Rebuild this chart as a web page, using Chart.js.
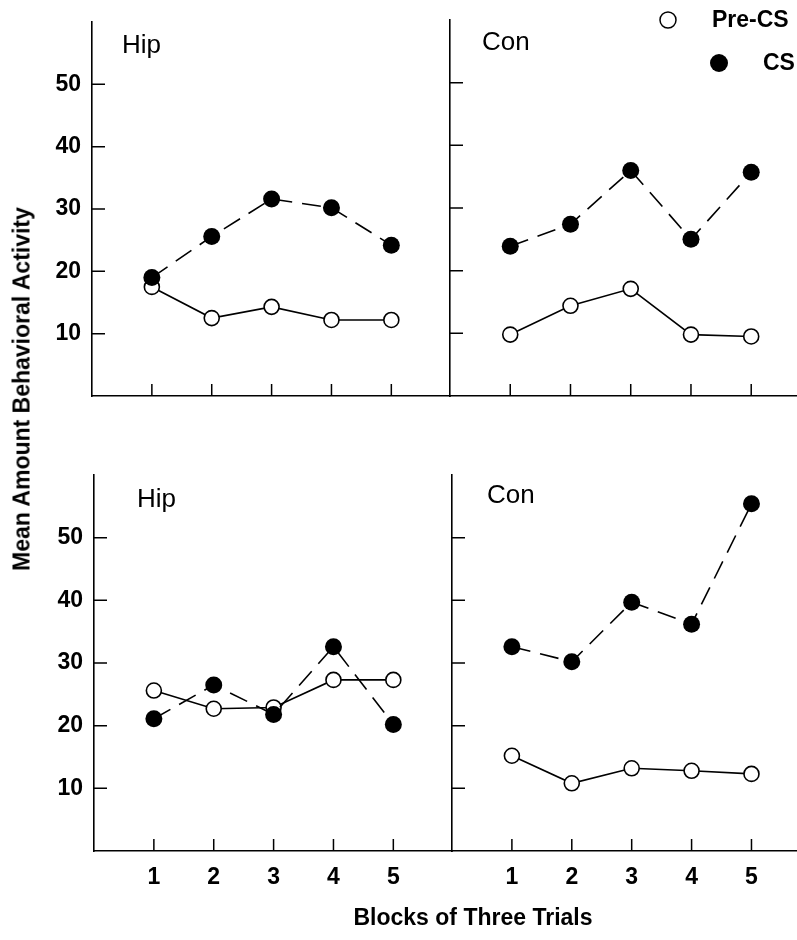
<!DOCTYPE html>
<html>
<head>
<meta charset="utf-8">
<script src="https://cdn.jsdelivr.net/npm/chart.js@4.4.1/dist/chart.umd.min.js"></script>
<style>
  body { margin: 0; background: #fff; }
  #wrap { position: relative; width: 797px; height: 940px; overflow: hidden; font-family: "Liberation Sans", Arial, sans-serif; color: #000; }
  canvas { position: absolute; }
  .ytitle { position: absolute; left: 22px; top: 389px; font-weight: bold; font-size: 23px; white-space: nowrap; transform: translate(-50%, -50%) rotate(-90deg); }
  .xtitle { position: absolute; left: 473px; top: 917px; font-weight: bold; font-size: 23px; white-space: nowrap; transform: translate(-50%, -50%); }
</style>
</head>
<body>
<div id="wrap">
  <canvas id="tl" width="460" height="410" style="left:0;top:0"></canvas>
  <canvas id="tr" width="357" height="410" style="left:440px;top:0"></canvas>
  <canvas id="bl" width="460" height="500" style="left:0;top:440px"></canvas>
  <canvas id="br" width="357" height="500" style="left:440px;top:440px"></canvas>
  <div class="ytitle">Mean Amount Behavioral Activity</div>
  <div class="xtitle">Blocks of Three Trials</div>
</div>
<script>
// data
const blocks = [1, 2, 3, 4, 5];
const yTicks = [10, 20, 30, 40, 50];
const seriesNames = ['Pre-CS', 'CS'];

const hipTopPre = [17.5, 12.5, 14.3, 12.2, 12.2];
const hipTopCS  = [19.0, 25.6, 31.6, 30.2, 24.2];
const conTopPre = [9.8, 14.4, 17.1, 9.8, 9.5];
const conTopCS  = [23.9, 27.4, 36.0, 25.0, 35.7];

const hipBotPre = [25.6, 22.7, 22.9, 27.3, 27.3];
const hipBotCS  = [21.1, 26.5, 21.8, 32.6, 20.2];
const conBotPre = [15.2, 10.8, 13.2, 12.8, 12.3];
const conBotCS  = [32.6, 30.2, 39.7, 36.2, 55.4];

const FONT = '"Liberation Sans", Arial, sans-serif';
Chart.defaults.color = '#000';
Chart.defaults.font.family = FONT;

// inward tick marks, panel label and (optionally) the legend
const panelDeco = {
  id: 'panelDeco',
  afterDraw(chart, args, opts) {
    const ctx = chart.ctx;
    const a = chart.chartArea;
    const xs = chart.scales.x, ys = chart.scales.y;
    ctx.save();
    ctx.strokeStyle = '#000';
    ctx.lineWidth = 1.5;
    ctx.beginPath();
    yTicks.forEach(v => {
      const y = ys.getPixelForValue(v);
      ctx.moveTo(a.left, y);
      ctx.lineTo(a.left + 13, y);
    });
    blocks.forEach(v => {
      const x = xs.getPixelForValue(v);
      ctx.moveTo(x, a.bottom);
      ctx.lineTo(x, a.bottom - 12);
    });
    ctx.stroke();

    ctx.fillStyle = '#000';
    ctx.font = '26px ' + FONT;
    ctx.textBaseline = 'alphabetic';
    ctx.textAlign = 'left';
    ctx.fillText(opts.title, a.left + opts.tx, a.top + opts.ty);

    if (opts.legend) {
      const items = [
        { name: seriesNames[0], cx: 228, cy: 20, tx: 272, filled: false },
        { name: seriesNames[1], cx: 279, cy: 63, tx: 323, filled: true }
      ];
      ctx.font = 'bold 23px ' + FONT;
      ctx.textBaseline = 'middle';
      items.forEach(it => {
        ctx.beginPath();
        ctx.arc(it.cx, it.cy, it.filled ? 9 : 8, 0, Math.PI * 2);
        if (it.filled) { ctx.fill(); } else { ctx.lineWidth = 1.5; ctx.stroke(); }
        ctx.fillText(it.name, it.tx, it.cy + 1);
      });
    }
    ctx.restore();
  }
};

function noPad(s) {
  s.paddingTop = 0; s.paddingBottom = 0; s.paddingLeft = 0; s.paddingRight = 0;
}

function makePanel(id, p) {
  const yW = p.showY ? p.areaLeft : 0;
  const xH = p.showX ? 45 : 0;
  const w = p.width, h = p.height;
  return new Chart(document.getElementById(id), {
    type: 'line',
    data: {
      datasets: [
        {
          label: seriesNames[1],
          data: blocks.map((b, i) => ({ x: b, y: p.cs[i] })),
          borderColor: '#000',
          borderWidth: 1.6,
          borderDash: [19, 10],
          pointRadius: 8.5,
          pointBackgroundColor: '#000',
          pointBorderColor: '#000',
          pointBorderWidth: 0,
          tension: 0,
          order: 0
        },
        {
          label: seriesNames[0],
          data: blocks.map((b, i) => ({ x: b, y: p.pre[i] })),
          borderColor: '#000',
          borderWidth: 1.6,
          pointRadius: 7.5,
          pointBackgroundColor: '#fff',
          pointBorderColor: '#000',
          pointBorderWidth: 1.6,
          tension: 0,
          order: 1
        }
      ]
    },
    options: {
      responsive: false,
      animation: false,
      devicePixelRatio: 1,
      layout: {
        autoPadding: false,
        padding: {
          left: p.showY ? 0 : p.areaLeft,
          right: w - p.areaRight,
          top: p.areaTop,
          bottom: h - p.areaBottom - xH
        }
      },
      plugins: {
        legend: { display: false },
        tooltip: { enabled: false },
        panelDeco: { title: p.title, tx: p.tx, ty: p.ty, legend: !!p.legend }
      },
      scales: {
        x: {
          type: 'linear',
          min: 0,
          max: p.xMax,
          afterBuildTicks: s => { s.ticks = blocks.map(v => ({ value: v })); },
          afterFit: s => { s.height = xH; noPad(s); },
          grid: { display: false, drawTicks: false },
          border: { display: true, color: '#000', width: 1.6 },
          ticks: {
            display: p.showX,
            padding: 13,
            maxRotation: 0,
            font: { size: 23, weight: 'bold' },
            callback: v => String(v)
          }
        },
        y: {
          min: 0,
          max: 60,
          afterBuildTicks: s => { s.ticks = yTicks.map(v => ({ value: v })); },
          afterFit: s => { s.width = yW; noPad(s); },
          grid: { display: false, drawTicks: false },
          border: { display: true, color: '#000', width: 1.6 },
          ticks: {
            display: p.showY,
            padding: 11,
            font: { size: 23, weight: 'bold' },
            callback: v => String(v)
          }
        }
      }
    },
    plugins: [panelDeco]
  });
}

// canvas-local chart areas
makePanel('tl', { width: 460, height: 410, areaLeft: 92, areaRight: 450, areaTop: 22, areaBottom: 396,
  xMax: 5.98, showY: true, showX: false, title: 'Hip', tx: 30, ty: 31, pre: hipTopPre, cs: hipTopCS });
makePanel('tr', { width: 357, height: 410, areaLeft: 10, areaRight: 357, areaTop: 20, areaBottom: 396,
  xMax: 5.76, showY: false, showX: false, title: 'Con', tx: 32, ty: 30, pre: conTopPre, cs: conTopCS, legend: true });
makePanel('bl', { width: 460, height: 500, areaLeft: 94, areaRight: 452, areaTop: 35, areaBottom: 411,
  xMax: 5.98, showY: true, showX: true, title: 'Hip', tx: 43, ty: 32, pre: hipBotPre, cs: hipBotCS });
makePanel('br', { width: 357, height: 500, areaLeft: 12, areaRight: 357, areaTop: 35, areaBottom: 411,
  xMax: 5.76, showY: false, showX: true, title: 'Con', tx: 35, ty: 28, pre: conBotPre, cs: conBotCS });
</script>
</body>
</html>
